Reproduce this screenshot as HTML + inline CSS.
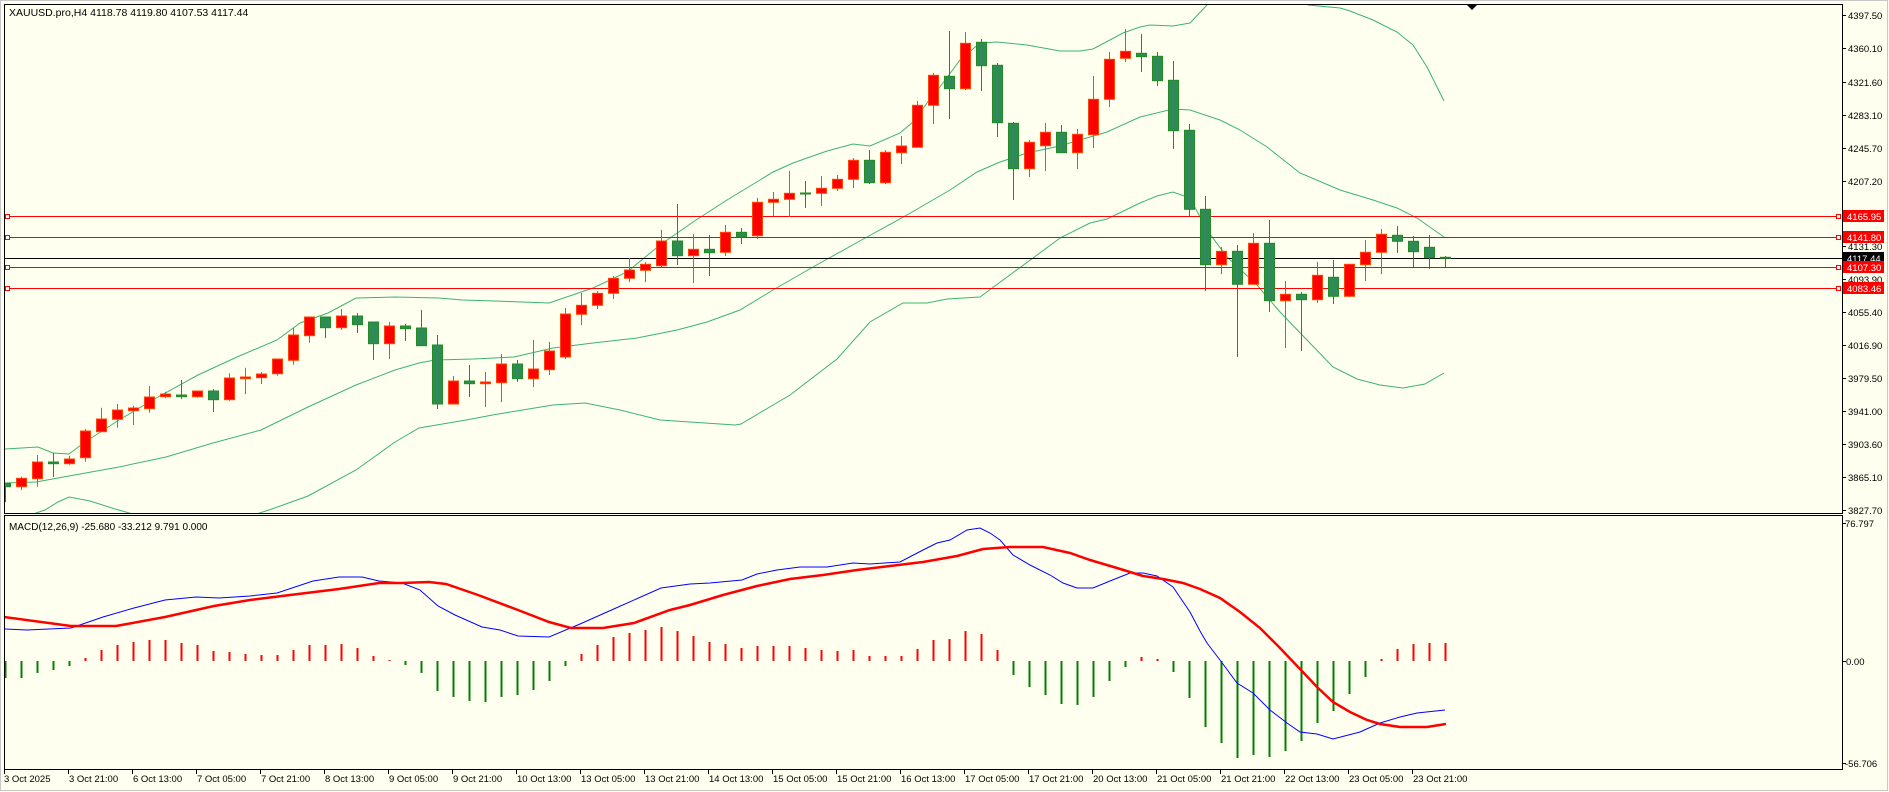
<!DOCTYPE html>
<html><head><meta charset="utf-8"><style>
html,body{margin:0;padding:0;background:#fffff0;}
svg{display:block;}
text{font-family:"Liberation Sans",sans-serif;}
</style></head><body>
<svg width="1889" height="792" viewBox="0 0 1889 792" xmlns="http://www.w3.org/2000/svg">
<rect x="0" y="0" width="1889" height="792" fill="#fffff0"/>
<rect x="0.5" y="0.5" width="1887" height="790" fill="none" stroke="#c8c8c8"/>
<rect x="4.5" y="4.5" width="1838" height="509" fill="none" stroke="#000"/>
<rect x="4.5" y="515.5" width="1838" height="254" fill="none" stroke="#000"/>
<defs><clipPath id="mc"><rect x="5" y="5" width="1837" height="508"/></clipPath>
<clipPath id="dc"><rect x="5" y="516" width="1837" height="253"/></clipPath></defs>
<text x="9" y="16" font-size="10.5" fill="#000">XAUUSD.pro,H4  4118.78 4119.80 4107.53 4117.44</text>
<polygon points="1467,5 1477,5 1472,10" fill="#000"/>
<g clip-path="url(#mc)" fill="none" stroke="#3cb371" stroke-width="1">
<polyline points="4,449 38,447 53,453 69,454 85,442 119,420 158,397 198,375 237,357 277,340 300,323 328,313 356,298 395,297 439,298 462,300 494,301 549,303 593,288 627,272 660,245 693,222 727,200 760,180 773,172 793,163 827,151 853,144 870,146 900,133 913,122 927,103 943,83 960,60 980,43 997,42 1027,45 1060,51 1080,51 1093,49 1123,33 1140,27 1150,25 1173,26 1190,23 1207,5 1215,-5 1300,-5 1308,5 1340,8 1350,11 1373,20 1397,32 1413,45 1427,67 1444,101"/>
<polyline points="4,483 36,482 69,476 119,467 166,457 213,443 261,430 308,407 356,385 395,370 419,363 435,360 474,359 514,357 553,348 593,343 637,338 677,330 707,322 740,310 773,290 813,267 867,237 907,215 950,190 977,172 1000,162 1027,153 1060,146 1073,142 1107,132 1140,117 1173,109 1190,110 1220,120 1240,130 1267,147 1300,173 1340,190 1373,200 1397,208 1417,218 1444,237"/>
<polyline points="4,530 30,515 45,510 58,502 69,497 90,501 115,509 140,516 250,516 269,510 308,496 356,470 395,442 419,428 466,420 498,414 553,405 585,403 620,410 660,420 735,425 741,424 790,395 837,359 870,322 903,303 927,303 947,299 980,297 1003,280 1033,258 1060,238 1090,223 1107,219 1140,203 1157,196 1173,192 1190,198 1207,230 1227,257 1257,285 1280,312 1307,340 1333,367 1357,379 1380,385 1403,388 1425,384 1444,373"/>
</g>
<g stroke-width="1">
<line x1="8" y1="216.5" x2="1838" y2="216.5" stroke="#ff0000"/>
<line x1="8" y1="237.5" x2="1838" y2="237.5" stroke="#ff0000"/>
<line x1="8" y1="267.5" x2="1838" y2="267.5" stroke="#ff0000"/>
<line x1="8" y1="288.5" x2="1838" y2="288.5" stroke="#ff0000"/>
<line x1="5" y1="258.5" x2="1842" y2="258.5" stroke="#000"/>
<g fill="#fff" stroke="#ff0000">
<rect x="5.5" y="214.5" width="4" height="4"/><rect x="5.5" y="235.5" width="4" height="4"/><rect x="5.5" y="265.5" width="4" height="4"/><rect x="5.5" y="286.5" width="4" height="4"/>
<rect x="1836.5" y="214.5" width="4" height="4"/><rect x="1836.5" y="235.5" width="4" height="4"/><rect x="1836.5" y="265.5" width="4" height="4"/><rect x="1836.5" y="286.5" width="4" height="4"/>
</g></g>
<g clip-path="url(#mc)">
<path fill="none" stroke="#ff4500" stroke-width="1" d="M21.5 476.7V490 M37.5 455V486.7 M69.5 455.7V464.7 M85.5 429V461.7 M101.5 407.7V432.3 M117.5 404V427.7 M133.5 405.7V425 M149.5 386V412.7 M165.5 391.7V398.3 M197.5 391V397.7 M229.5 373.3V400.7 M245.5 367.7V394 M261.5 372V384 M277.5 359V375.7 M293.5 328V364.7 M309.5 317V342.7 M341.5 309V330 M389.5 322V359 M453.5 376V404 M485.5 372V407 M501.5 354V402 M533.5 340V387 M549.5 342V375 M565.5 308V359 M581.5 293V325 M597.5 291V309 M613.5 276V299 M629.5 258V282 M645.5 262V282 M661.5 230V267 M693.5 234V283 M725.5 225V256 M757.5 198V239 M773.5 192V216 M789.5 171V217 M821.5 176V206 M837.5 175V191 M853.5 158V188 M885.5 150V184 M901.5 136V164 M917.5 101V147 M933.5 73V124 M965.5 32V90 M1029.5 140V177 M1045.5 123V171 M1077.5 129V169 M1093.5 76V148 M1109.5 52V107 M1125.5 29V62 M1221.5 247V274 M1253.5 233V284 M1285.5 281V348 M1317.5 262V303 M1349.5 264V297 M1365.5 240V281 M1381.5 229V274"/>
<path fill="none" stroke="#228b22" stroke-width="1" d="M5.5 483V502 M53.5 453V477 M181.5 380V399 M213.5 389V412 M325.5 317V338 M357.5 313V333 M373.5 322V360 M405.5 324V341 M421.5 310V346 M437.5 335V409 M469.5 365V397 M517.5 360V382 M677.5 204V265 M709.5 235V276 M741.5 228V244 M805.5 181V208 M869.5 150V184 M949.5 31V119 M981.5 39V91 M997.5 63V137 M1013.5 122V200 M1061.5 125V153 M1141.5 34V72 M1157.5 52V86 M1173.5 61V149 M1189.5 124V216 M1205.5 196V291 M1237.5 245V357 M1269.5 220V312 M1301.5 292V351 M1333.5 260V304 M1397.5 226V253 M1413.5 236V267 M1429.5 235V269 M1445.5 256V267"/>
<g fill="#ff0000" stroke="#ff4500" stroke-width="1">
<rect x="16.5" y="478.3" width="10" height="8.4"/><rect x="32.5" y="462" width="10" height="16.7"/><rect x="64.5" y="459" width="10" height="4.7"/><rect x="80.5" y="431" width="10" height="26.7"/><rect x="96.5" y="419" width="10" height="12.7"/><rect x="112.5" y="410" width="10" height="9.3"/><rect x="128.5" y="408" width="10" height="2.7"/><rect x="144.5" y="397" width="10" height="11.7"/><rect x="160.5" y="394" width="10" height="2.7"/><rect x="192.5" y="391" width="10" height="5.7"/><rect x="224.5" y="378" width="10" height="21.7"/><rect x="240.5" y="377" width="10" height="1.7"/><rect x="256.5" y="374" width="10" height="3.7"/><rect x="272.5" y="359" width="10" height="14.7"/><rect x="288.5" y="335" width="10" height="25.3"/><rect x="304.5" y="317" width="10" height="18.7"/><rect x="336.5" y="316" width="10" height="11.7"/><rect x="384.5" y="326" width="10" height="17.7"/><rect x="448.5" y="381" width="10" height="23"/><rect x="480.5" y="382" width="10" height="1.7"/><rect x="496.5" y="364" width="10" height="18.7"/><rect x="528.5" y="369" width="10" height="9.7"/><rect x="544.5" y="351" width="10" height="18.7"/><rect x="560.5" y="314" width="10" height="43"/><rect x="576.5" y="305.3" width="10" height="9"/><rect x="592.5" y="293.3" width="10" height="12"/><rect x="608.5" y="278.3" width="10" height="15"/><rect x="624.5" y="270" width="10" height="8.3"/><rect x="640.5" y="264.3" width="10" height="6"/><rect x="656.5" y="241" width="10" height="24.7"/><rect x="688.5" y="249.3" width="10" height="6.4"/><rect x="720.5" y="232.3" width="10" height="20"/><rect x="752.5" y="202.3" width="10" height="33.4"/><rect x="768.5" y="199.3" width="10" height="3"/><rect x="784.5" y="193.3" width="10" height="6"/><rect x="816.5" y="188.3" width="10" height="5"/><rect x="832.5" y="179.3" width="10" height="9"/><rect x="848.5" y="160.3" width="10" height="19"/><rect x="880.5" y="152.3" width="10" height="30.4"/><rect x="896.5" y="146" width="10" height="6.7"/><rect x="912.5" y="105.3" width="10" height="42"/><rect x="928.5" y="75.3" width="10" height="30"/><rect x="960.5" y="43.3" width="10" height="45.4"/><rect x="1024.5" y="142.3" width="10" height="26.4"/><rect x="1040.5" y="132.3" width="10" height="13.4"/><rect x="1072.5" y="134.3" width="10" height="18.4"/><rect x="1088.5" y="99.3" width="10" height="35.4"/><rect x="1104.5" y="59.3" width="10" height="40"/><rect x="1120.5" y="51.3" width="10" height="7"/><rect x="1216.5" y="251.3" width="10" height="13.4"/><rect x="1248.5" y="243.3" width="10" height="41"/><rect x="1280.5" y="294.3" width="10" height="6.4"/><rect x="1312.5" y="275.3" width="10" height="24.4"/><rect x="1344.5" y="264.3" width="10" height="32"/><rect x="1360.5" y="252.3" width="10" height="12.4"/><rect x="1376.5" y="234.3" width="10" height="18"/>
</g>
<g fill="#2e8b57" stroke="#228b22" stroke-width="1">
<rect x="0.5" y="483.3" width="10" height="3.4"/><rect x="48.5" y="462" width="10" height="1.7"/><rect x="176.5" y="395" width="10" height="1.7"/><rect x="208.5" y="391" width="10" height="8.7"/><rect x="320.5" y="317" width="10" height="10.7"/><rect x="352.5" y="316" width="10" height="8.7"/><rect x="368.5" y="322" width="10" height="21.7"/><rect x="400.5" y="326" width="10" height="2.7"/><rect x="416.5" y="328" width="10" height="17.7"/><rect x="432.5" y="345" width="10" height="59"/><rect x="464.5" y="381" width="10" height="2.7"/><rect x="512.5" y="364" width="10" height="14.7"/><rect x="672.5" y="241" width="10" height="14.7"/><rect x="704.5" y="249.3" width="10" height="3.4"/><rect x="736.5" y="232.3" width="10" height="4.7"/><rect x="800.5" y="193" width="10" height="1"/><rect x="864.5" y="160.3" width="10" height="22.4"/><rect x="944.5" y="76.3" width="10" height="12.4"/><rect x="976.5" y="42.3" width="10" height="23.4"/><rect x="992.5" y="65.3" width="10" height="57.4"/><rect x="1008.5" y="123.3" width="10" height="45.4"/><rect x="1056.5" y="132.3" width="10" height="20.4"/><rect x="1136.5" y="53.3" width="10" height="3.4"/><rect x="1152.5" y="56.3" width="10" height="24.4"/><rect x="1168.5" y="80.3" width="10" height="50.4"/><rect x="1184.5" y="130.3" width="10" height="79"/><rect x="1200.5" y="209.3" width="10" height="55.4"/><rect x="1232.5" y="251.3" width="10" height="33"/><rect x="1264.5" y="243.3" width="10" height="57.4"/><rect x="1296.5" y="294.3" width="10" height="5.4"/><rect x="1328.5" y="277.3" width="10" height="19"/><rect x="1392.5" y="235.3" width="10" height="6"/><rect x="1408.5" y="241.3" width="10" height="10.4"/><rect x="1424.5" y="247.3" width="10" height="10.4"/><rect x="1440.5" y="257.3" width="10" height="1"/>
</g>
</g>
<!-- price axis -->
<g stroke="#000" stroke-width="1">
<path d="M1842 15.5h4M1842 48.5h4M1842 82.5h4M1842 115.5h4M1842 148.5h4M1842 181.5h4M1842 246.5h4M1842 279.5h4M1842 312.5h4M1842 345.5h4M1842 378.5h4M1842 411.5h4M1842 444.5h4M1842 477.5h4M1842 510.5h4M1842 523.5h4M1842 661.5h4M1842 763.5h4"/>
</g>
<g font-size="9.5" fill="#000">
<text x="1848" y="19">4397.50</text><text x="1848" y="52">4360.10</text><text x="1848" y="86">4321.60</text><text x="1848" y="119">4283.10</text><text x="1848" y="152">4245.70</text><text x="1848" y="185">4207.20</text><text x="1848" y="250">4131.30</text><text x="1848" y="283">4093.90</text><text x="1848" y="316">4055.40</text><text x="1848" y="349">4016.90</text><text x="1848" y="382">3979.50</text><text x="1848" y="415">3941.00</text><text x="1848" y="448">3903.60</text><text x="1848" y="481">3865.10</text><text x="1848" y="514">3827.70</text>
<text x="1845" y="527">76.797</text><text x="1846" y="665">0.00</text><text x="1845" y="767">-56.706</text>
</g>
<g font-size="9.5">
<rect x="1843" y="210" width="41" height="12" fill="#ff0000"/><text x="1847" y="220" fill="#fff">4165.95</text>
<rect x="1843" y="231" width="41" height="12" fill="#ff0000"/><text x="1847" y="241" fill="#fff">4141.80</text>
<rect x="1843" y="252" width="41" height="12" fill="#000"/><text x="1847" y="262" fill="#fff">4117.44</text>
<rect x="1843" y="261" width="41" height="12" fill="#ff0000"/><text x="1847" y="271" fill="#fff">4107.30</text>
<rect x="1843" y="282" width="41" height="12" fill="#ff0000"/><text x="1847" y="292" fill="#fff">4083.46</text>
</g>
<!-- MACD -->
<text x="9" y="530" font-size="10" fill="#000">MACD(12,26,9) -25.680 -33.212 9.791 0.000</text>
<g clip-path="url(#dc)">
<path fill="none" stroke="#ff0000" stroke-width="2" d="M85.5 661V658 M101.5 661V650 M117.5 661V645 M133.5 661V642 M149.5 661V640 M165.5 661V640 M181.5 661V643 M197.5 661V645 M213.5 661V651 M229.5 661V652 M245.5 661V654 M261.5 661V655 M277.5 661V655 M293.5 661V650 M309.5 661V645 M325.5 661V645 M341.5 661V644 M357.5 661V648 M373.5 661V656 M389.5 661V660 M581.5 661V654 M597.5 661V645 M613.5 661V637 M629.5 661V633 M645.5 661V630 M661.5 661V627 M677.5 661V631 M693.5 661V636 M709.5 661V642 M725.5 661V644 M741.5 661V648 M757.5 661V646 M773.5 661V646 M789.5 661V646 M805.5 661V648 M821.5 661V650 M837.5 661V651 M853.5 661V650 M869.5 661V656 M885.5 661V656 M901.5 661V656 M917.5 661V649 M933.5 661V640 M949.5 661V639 M965.5 661V631 M981.5 661V634 M997.5 661V650 M1141.5 661V657 M1157.5 661V659 M1381.5 661V659 M1397.5 661V649 M1413.5 661V644 M1429.5 661V643 M1445.5 661V643"/>
<path fill="none" stroke="#008000" stroke-width="2" d="M5.5 661V678 M21.5 661V678 M37.5 661V673 M53.5 661V670 M69.5 661V666 M405.5 661V665 M421.5 661V673 M437.5 661V691 M453.5 661V697 M469.5 661V701 M485.5 661V702 M501.5 661V697 M517.5 661V695 M533.5 661V690 M549.5 661V681 M565.5 661V666 M1013.5 661V675 M1029.5 661V687 M1045.5 661V695 M1061.5 661V704 M1077.5 661V705 M1093.5 661V697 M1109.5 661V681 M1125.5 661V667 M1173.5 661V672 M1189.5 661V698 M1205.5 661V727 M1221.5 661V743 M1237.5 661V758 M1253.5 661V755 M1269.5 661V757 M1285.5 661V751 M1301.5 661V741 M1317.5 661V723 M1333.5 661V711 M1349.5 661V694 M1365.5 661V677"/>
<polyline fill="none" stroke="#0000ff" stroke-width="1" points="4,629 27,630 71,628 103,617 134,608 165,600 196,597 219,598 250,596 277,593 313,581 339,577 362,577 379,581 402,583 420,590 438,606 455,615 482,627 500,630 518,636 549,637 580,624 616,608 661,588 690,584 710,583 742,580 757,574 777,570 800,567 827,567 853,563 870,564 900,562 923,550 937,543 950,540 967,530 980,528 990,533 1000,540 1013,555 1030,565 1050,575 1063,583 1077,588 1093,588 1110,581 1130,573 1143,573 1157,576 1173,587 1190,612 1200,631 1207,643 1220,660 1237,683 1253,693 1270,710 1287,723 1300,732 1317,734 1333,739 1360,732 1380,723 1400,717 1417,713 1445,710"/>
<polyline fill="none" stroke="#ff0000" stroke-width="2.5" points="4,617 71,626 116,626 165,617 214,606 250,600 290,595 339,589 379,583 402,583 429,582 446,584 478,595 518,610 549,622 571,628 603,628 634,623 670,610 690,605 723,595 757,586 790,579 823,575 857,570 890,566 923,562 957,556 983,549 1010,547 1043,547 1070,553 1090,560 1117,568 1143,576 1163,579 1183,583 1200,589 1220,598 1240,612 1260,628 1280,648 1300,669 1317,687 1333,702 1350,712 1367,720 1380,724 1400,727 1427,727 1446,724"/>
</g>
<!-- time axis -->
<path stroke="#000" stroke-width="1" d="M4.5 770v4M68.5 770v4M132.5 770v4M196.5 770v4M260.5 770v4M324.5 770v4M388.5 770v4M452.5 770v4M516.5 770v4M580.5 770v4M644.5 770v4M708.5 770v4M772.5 770v4M836.5 770v4M900.5 770v4M964.5 770v4M1028.5 770v4M1092.5 770v4M1156.5 770v4M1220.5 770v4M1284.5 770v4M1348.5 770v4M1412.5 770v4"/>
<g font-size="9.5" fill="#000">
<text x="4" y="782">3 Oct 2025</text><text x="69" y="782">3 Oct 21:00</text><text x="133" y="782">6 Oct 13:00</text><text x="197" y="782">7 Oct 05:00</text><text x="261" y="782">7 Oct 21:00</text><text x="325" y="782">8 Oct 13:00</text><text x="389" y="782">9 Oct 05:00</text><text x="453" y="782">9 Oct 21:00</text><text x="517" y="782">10 Oct 13:00</text><text x="581" y="782">13 Oct 05:00</text><text x="645" y="782">13 Oct 21:00</text><text x="709" y="782">14 Oct 13:00</text><text x="773" y="782">15 Oct 05:00</text><text x="837" y="782">15 Oct 21:00</text><text x="901" y="782">16 Oct 13:00</text><text x="965" y="782">17 Oct 05:00</text><text x="1029" y="782">17 Oct 21:00</text><text x="1093" y="782">20 Oct 13:00</text><text x="1157" y="782">21 Oct 05:00</text><text x="1221" y="782">21 Oct 21:00</text><text x="1285" y="782">22 Oct 13:00</text><text x="1349" y="782">23 Oct 05:00</text><text x="1413" y="782">23 Oct 21:00</text>
</g>
</svg>
</body></html>
